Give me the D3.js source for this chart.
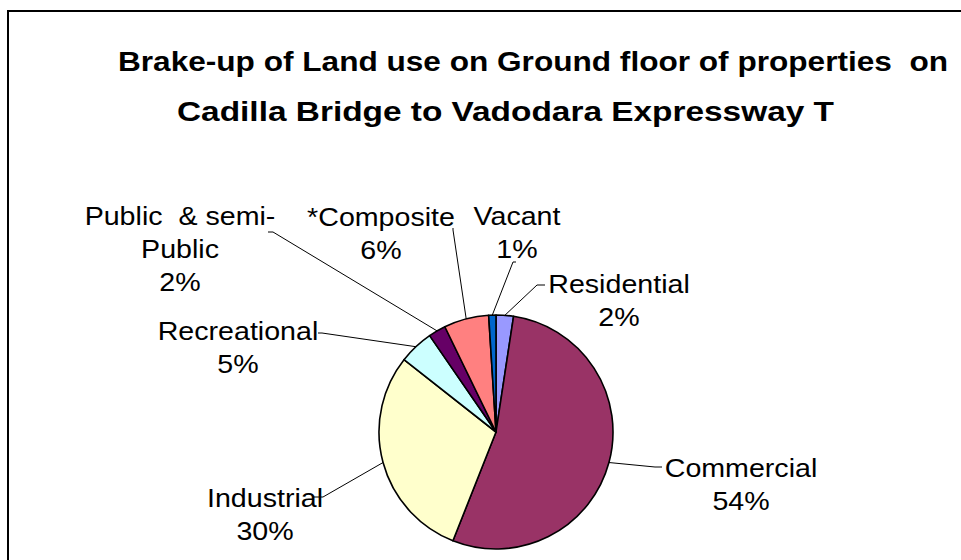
<!DOCTYPE html>
<html>
<head>
<meta charset="utf-8">
<script src="https://cdn.jsdelivr.net/npm/d3@7"></script>
<style>
  body { margin: 0; background: #fff; }
  text { font-family: Arial, "Liberation Sans", sans-serif; fill: #000; white-space: pre; }
</style>
</head>
<body>
<svg id="chart" width="961" height="560"></svg>
<script>
//chart data
var categories = ["Residential", "Commercial", "Industrial", "Recreational", "Public  & semi-Public", "*Composite", "Vacant"];
var shares = [2.4, 53.6, 29.6, 4.8, 2.4, 6.2, 1.0];
var percentLabels = ["2%", "54%", "30%", "5%", "2%", "6%", "1%"];
var labelLines = [["Residential"], ["Commercial"], ["Industrial"], ["Recreational"], ["Public  & semi-", "Public"], ["*Composite"], ["Vacant"]];
var titleLines = ["Brake-up of Land use on Ground floor of properties  on", "Cadilla Bridge to Vadodara Expressway T"];

//colors
var sliceColors = ["#9999FF", "#993366", "#FFFFCC", "#CCFFFF", "#660066", "#FF8080", "#0066CC"];

//layout
var cx = 496, cy = 432, radius = 117;
var lineHeight = 33;
var labelLayout = [
  {x: 619, y: 293, elbow: [537, 285], end: [545, 285]},
  {x: 741, y: 477, elbow: [655, 467], end: [662, 467]},
  {x: 265, y: 507, elbow: [323, 497], end: [313, 497]},
  {x: 238, y: 340, elbow: [322, 333], end: [318, 333]},
  {x: 180, y: 225, elbow: [273, 232], end: [268, 232]},
  {x: 381, y: 226, elbow: [453, 230], end: [453, 228]},
  {x: 517, y: 225, elbow: [513, 262], end: [516, 262]}
];

var svg = d3.select("#chart");

//frame
svg.append("rect")
   .attr("x", 8).attr("y", 11)
   .attr("width", 1000).attr("height", 600)
   .attr("fill", "none")
   .attr("stroke", "#000")
   .attr("stroke-width", 2);

//title
svg.selectAll("text.title")
   .data(titleLines)
   .enter()
   .append("text")
   .attr("class", "title")
   .attr("x", (d, i) => i === 0 ? 118 : 177)
   .attr("y", (d, i) => 71 + i * 50)
   .attr("textLength", (d, i) => i === 0 ? 830 : 657)
   .attr("lengthAdjust", "spacingAndGlyphs")
   .style("font-size", "28px")
   .style("font-weight", "bold")
   .text(d => d);

//pie
var pie = d3.pie().sort(null).value(d => d);
var arc = d3.arc().innerRadius(0).outerRadius(radius);
var arcs = pie(shares);

var g = svg.append("g").attr("transform", "translate(" + cx + "," + cy + ")");

g.selectAll("path")
 .data(arcs)
 .enter()
 .append("path")
 .attr("d", arc)
 .attr("fill", (d, i) => sliceColors[i])
 .attr("stroke", "#000")
 .attr("stroke-width", 1.6)
 .attr("stroke-linejoin", "round");

//leader lines
svg.selectAll("polyline.leader")
   .data(arcs)
   .enter()
   .append("polyline")
   .attr("class", "leader")
   .attr("points", (d, i) => {
     var mid = (d.startAngle + d.endAngle) / 2;
     var sx = cx + radius * Math.sin(mid),
         sy = cy - radius * Math.cos(mid);
     var L = labelLayout[i];
     return [[sx, sy], L.elbow, L.end].map(p => p.join(",")).join(" ");
   })
   .attr("fill", "none")
   .attr("stroke", "#000")
   .attr("stroke-width", 1);

//labels (slightly wide, like the original)
arcs.forEach(function(d, i) {
  var L = labelLayout[i];
  var lines = labelLines[i].concat([percentLabels[i]]);
  var t = svg.append("text")
             .attr("class", "label")
             .attr("text-anchor", "middle")
             .attr("transform", "translate(" + L.x + ",0) scale(1.1,1)")
             .style("font-size", "26px");
  lines.forEach(function(s, j) {
    t.append("tspan")
     .attr("x", 0)
     .attr("y", L.y + j * lineHeight)
     .text(s);
  });
});
</script>
</body>
</html>
